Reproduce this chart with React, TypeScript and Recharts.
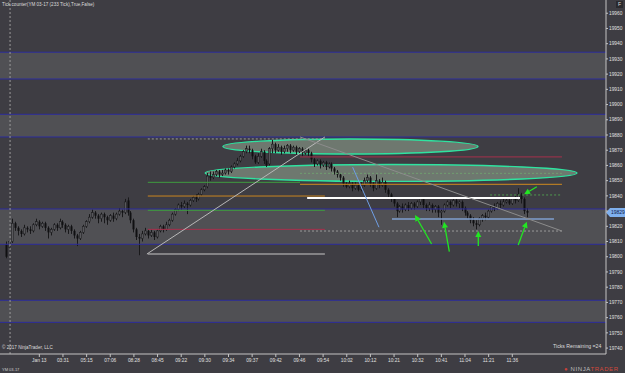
import React from 'react';
import { ComposedChart, Bar, XAxis, YAxis, ReferenceLine, ReferenceArea } from 'recharts';

// YM 03-17, 233 tick bars
const opens = [
  19808, 19806, 19810, 19822, 19819, 19817, 19815, 19819, 19818, 19817, 19821, 19823, 19820, 19822, 19819, 19816, 19818, 19821, 19819, 19823,
  19821, 19818, 19820, 19817, 19814, 19812, 19816, 19820, 19823, 19826, 19829, 19827, 19825, 19828, 19826, 19824, 19827, 19825, 19828, 19830,
  19829, 19837, 19829, 19824, 19818, 19813, 19812, 19815, 19817, 19814, 19816, 19813, 19817, 19820, 19818, 19821, 19824, 19828, 19831, 19834,
  19833, 19835, 19834, 19837, 19839, 19838, 19841, 19844, 19846, 19853, 19852, 19854, 19856, 19854, 19855, 19857, 19856, 19859, 19861, 19863,
  19866, 19869, 19871, 19870, 19866, 19862, 19866, 19869, 19863, 19861, 19871, 19874, 19870, 19872, 19869, 19871, 19873, 19870, 19872, 19869,
  19871, 19868, 19870, 19868, 19864, 19861, 19863, 19860, 19862, 19859, 19861, 19858, 19856, 19854, 19852, 19848, 19846, 19848, 19845, 19847,
  19844, 19847, 19850, 19852, 19848, 19845, 19850, 19847, 19849, 19844, 19841, 19838, 19835, 19830, 19833, 19831, 19834, 19832, 19835, 19833,
  19836, 19838, 19834, 19832, 19834, 19831, 19833, 19829, 19830, 19834, 19836, 19834, 19837, 19835, 19836, 19832, 19829, 19827, 19824, 19822,
  19821, 19825, 19827, 19826, 19830, 19833, 19832, 19835, 19834, 19836, 19837, 19835, 19838, 19837, 19841, 19838, 19830,
];
const highs = [
  19810, 19811, 19825, 19823, 19820, 19818, 19821, 19820, 19820, 19822, 19825, 19824, 19823, 19823, 19820, 19819, 19822, 19822, 19825, 19824,
  19822, 19821, 19821, 19818, 19815, 19817, 19821, 19824, 19828, 19831, 19830, 19828, 19829, 19829, 19827, 19828, 19829, 19829, 19832, 19831,
  19838, 19839, 19830, 19825, 19819, 19815, 19817, 19819, 19818, 19818, 19817, 19818, 19821, 19821, 19823, 19825, 19829, 19832, 19835, 19836,
  19837, 19836, 19838, 19840, 19841, 19842, 19845, 19847, 19855, 19856, 19856, 19857, 19857, 19857, 19858, 19858, 19860, 19862, 19865, 19867,
  19870, 19873, 19873, 19871, 19867, 19868, 19871, 19870, 19864, 19872, 19877, 19875, 19874, 19873, 19873, 19874, 19874, 19873, 19873, 19872,
  19872, 19871, 19871, 19869, 19865, 19864, 19864, 19863, 19863, 19862, 19862, 19859, 19857, 19855, 19853, 19849, 19850, 19849, 19849, 19848,
  19849, 19852, 19854, 19853, 19849, 19854, 19851, 19852, 19850, 19845, 19842, 19839, 19836, 19834, 19835, 19835, 19836, 19836, 19836, 19837,
  19839, 19839, 19835, 19836, 19835, 19834, 19834, 19831, 19835, 19837, 19837, 19839, 19838, 19837, 19837, 19833, 19830, 19828, 19826, 19824,
  19826, 19828, 19829, 19831, 19834, 19835, 19836, 19837, 19838, 19839, 19838, 19839, 19840, 19845, 19842, 19839, 19832,
];
const lows = [
  19799, 19805, 19809, 19817, 19814, 19813, 19814, 19816, 19815, 19816, 19820, 19818, 19819, 19817, 19812, 19814, 19817, 19817, 19818, 19819,
  19816, 19815, 19815, 19812, 19807, 19811, 19815, 19819, 19822, 19825, 19825, 19822, 19823, 19822, 19821, 19823, 19823, 19824, 19827, 19826,
  19828, 19827, 19822, 19816, 19811, 19801, 19810, 19814, 19812, 19813, 19811, 19812, 19816, 19816, 19817, 19820, 19823, 19827, 19830, 19831,
  19832, 19828, 19833, 19836, 19836, 19837, 19840, 19843, 19845, 19850, 19851, 19853, 19852, 19853, 19854, 19854, 19855, 19858, 19860, 19862,
  19865, 19868, 19868, 19864, 19861, 19861, 19865, 19861, 19859, 19860, 19868, 19868, 19869, 19867, 19868, 19869, 19868, 19869, 19867, 19868,
  19866, 19867, 19866, 19862, 19859, 19860, 19858, 19859, 19857, 19858, 19856, 19854, 19852, 19850, 19846, 19845, 19845, 19843, 19844, 19843,
  19843, 19846, 19849, 19846, 19843, 19844, 19845, 19846, 19842, 19839, 19836, 19833, 19826, 19829, 19829, 19830, 19830, 19831, 19831, 19832,
  19834, 19832, 19830, 19830, 19829, 19829, 19826, 19821, 19829, 19833, 19832, 19833, 19833, 19832, 19830, 19827, 19825, 19822, 19820, 19818,
  19820, 19823, 19824, 19825, 19829, 19830, 19831, 19832, 19833, 19835, 19834, 19834, 19835, 19836, 19835, 19828, 19826,
];
const closes = [
  19800, 19810, 19822, 19819, 19817, 19815, 19819, 19818, 19817, 19821, 19823, 19820, 19822, 19819, 19816, 19818, 19821, 19819, 19823, 19821,
  19818, 19820, 19817, 19814, 19812, 19816, 19820, 19823, 19826, 19829, 19827, 19825, 19828, 19826, 19824, 19827, 19825, 19828, 19830, 19829,
  19836, 19829, 19824, 19818, 19813, 19812, 19815, 19817, 19814, 19816, 19813, 19817, 19820, 19818, 19821, 19824, 19828, 19831, 19834, 19833,
  19835, 19834, 19837, 19839, 19838, 19841, 19844, 19846, 19853, 19852, 19854, 19856, 19854, 19855, 19857, 19856, 19859, 19861, 19863, 19866,
  19869, 19871, 19870, 19866, 19862, 19866, 19869, 19863, 19860, 19871, 19874, 19870, 19872, 19869, 19871, 19873, 19870, 19872, 19869, 19871,
  19868, 19870, 19868, 19864, 19861, 19863, 19860, 19862, 19859, 19861, 19858, 19856, 19854, 19852, 19848, 19846, 19848, 19845, 19847, 19844,
  19847, 19850, 19852, 19848, 19845, 19850, 19847, 19849, 19844, 19841, 19838, 19835, 19830, 19833, 19831, 19834, 19832, 19835, 19833, 19836,
  19838, 19834, 19832, 19834, 19831, 19833, 19829, 19830, 19834, 19836, 19834, 19837, 19835, 19836, 19832, 19829, 19827, 19824, 19822, 19821,
  19825, 19827, 19826, 19830, 19833, 19832, 19835, 19834, 19836, 19837, 19835, 19838, 19837, 19841, 19838, 19830, 19829,
];

// x axis: bar index of each time label
const timeTicks = [11, 19, 27, 35, 43, 51, 59, 67, 75, 83, 91, 99, 107, 115, 123, 131, 139, 147, 155, 163, 171];
const timeLabels = ['Jan 13', '03:31', '05:15', '07:06', '08:28', '08:45', '09:22', '09:30', '09:34', '09:37', '09:42',
  '09:46', '09:54', '10:02', '10:12', '10:21', '10:32', '10:41', '11:04', '11:21', '11:36'];
const priceTicks = [19740, 19750, 19760, 19770, 19780, 19790, 19800, 19810, 19820, 19830, 19840, 19850,
  19860, 19870, 19880, 19890, 19900, 19910, 19920, 19930, 19940, 19950, 19960];

// shaded zones, [top, bottom] price
const zones = [[19934.4, 19916.8], [19893.6, 19878.7], [19831.4, 19808.2], [19771.4, 19756.9]];

// drawn horizontal rays: [fromBar, toBar, price]
const rays = [
  [47.7, 99.2, 19848.9], [99.2, 187.8, 19847.6], [47.7, 107.6, 19839.9], [47.7, 107.6, 19830.5],
  [47.7, 107.6, 19818], [47.7, 107.6, 19801.8], [99.2, 187.8, 19865.6], [99.2, 187.8, 19854.8],
  [163.5, 187.8, 19840.6], [101.6, 173.6, 19838.6], [130.3, 185.1, 19824.8], [99.2, 187.8, 19816.9],
  [47.7, 107.6, 19877.4],
];
const rayColors = ['#3f9c3f', '#d08a1e', '#c98520', '#3f9c3f', '#a8304c', '#c8c8c8', '#a8304c', '#6f9f6f',
  '#4f9a4f', '#ffffff', '#7f9fcf', '#9a9a9a', '#9a9a9a'];
const rayWidths = [1, 1, 1, 1, 1, 1, 1, 1, 1, 2, 1.5, 1, 1];
const rayDash = ['', '', '', '', '', '', '', '2 2', '2 2', '', '', '2 2', '2 2'];

// trend lines: [fromBar, fromPrice, toBar, toPrice]
const trends = [[47.4, 19801.8, 107.6, 19878.7], [99.2, 19878.7, 187.8, 19816.9], [117, 19858.8, 125.9, 19819.4]];
const trendColors = ['#b8b8b8', '#8c8c8c', '#6f9fe6'];

// green arrows: [tailBar, tailPrice, headBar, headPrice]
const arrows = [
  [179.3, 19846, 175.0, 19841], [143.7, 19808.4, 138.1, 19827.4], [149.7, 19803.3, 147.9, 19823],
  [159.5, 19807.1, 159.5, 19816.9], [173, 19807.7, 175.9, 19823],
];

// ellipses: [fromBar, toBar, lowPrice, highPrice]
const ovals = [[73.1, 159.4, 19867.5, 19877.4], [67.1, 192.9, 19849.5, 19860.6]];

const candles = closes.map((c, i) => ({
  i,
  open: opens[i],
  high: highs[i],
  low: lows[i],
  close: c,
  range: [lows[i], highs[i]],
}));
const lastClose = closes[closes.length - 1];

const FONT = '"Liberation Sans", Arial, sans-serif';

function Candle(props: any) {
  const { x, y, width, height, payload } = props;
  const top = Math.min(y, y + height);
  const h = Math.abs(height);
  const cx = Math.round(x + width / 2) + 0.5;
  const span = payload.high - payload.low || 1;
  const py = (v: number) => top + ((payload.high - v) / span) * h;
  const b0 = py(Math.max(payload.open, payload.close));
  const b1 = py(Math.min(payload.open, payload.close));
  const up = payload.close > payload.open;
  return (
    <g>
      <line x1={cx} x2={cx} y1={top} y2={top + h} stroke="#19191b" strokeWidth={1} />
      <rect x={cx - 1} y={b0} width={2} height={Math.max(1, b1 - b0)}
        fill={up ? '#58585c' : '#101012'} stroke={up ? '#19191b' : 'none'} strokeWidth={0.5} />
    </g>
  );
}

function Arrow(props: any) {
  const { x1, y1, x2, y2 } = props;
  const a = Math.atan2(y2 - y1, x2 - x1);
  const L = 6;
  const W = 3;
  const bx = x2 - L * Math.cos(a);
  const by = y2 - L * Math.sin(a);
  const px = -Math.sin(a) * W;
  const py = Math.cos(a) * W;
  return (
    <g>
      <line x1={x1} y1={y1} x2={bx} y2={by} stroke="#22e622" strokeWidth={1.3} />
      <polygon points={`${x2},${y2} ${bx + px},${by + py} ${bx - px},${by - py}`} fill="#22e622" />
    </g>
  );
}

function Oval(props: any) {
  const { x, y, width, height } = props;
  return (
    <ellipse cx={x + width / 2} cy={y + height / 2} rx={width / 2} ry={height / 2}
      fill="#a8c2a6" fillOpacity={0.45} stroke="#2fe3a0" strokeWidth={1.4} />
  );
}

function PriceTag(props: any) {
  const { viewBox } = props;
  const x = viewBox.x + viewBox.width;
  const y = viewBox.y;
  return (
    <g>
      <polygon points={`${x},${y} ${x + 4},${y - 4.5} ${x + 19},${y - 4.5} ${x + 19},${y + 4.5} ${x + 4},${y + 4.5}`}
        fill="#7fb0ee" />
      <text x={x + 5} y={y + 1.8} fontSize={5} fontFamily={FONT} fill="#10204a">{lastClose}</text>
    </g>
  );
}

// the live price tag sits over the nearest price label, so that label is left blank
const priceLabel = (v: number) => (Math.abs(v - lastClose) < 4 ? '' : String(v));

export default function App() {
  return (
    <div style={{ position: 'absolute', left: 0, top: 0, width: 625, height: 373, background: '#3e3d43', overflow: 'hidden' }}>
      <ComposedChart width={625} height={373} data={candles} margin={{ top: 0, right: 0, bottom: 0, left: 0 }}>
        <XAxis dataKey="i" type="number" domain={[-2.3, 202.7]} allowDataOverflow ticks={timeTicks}
          tickFormatter={(v: number) => timeLabels[timeTicks.indexOf(v)] ?? ''} height={19}
          stroke="#c4c4c4" tickSize={3} tick={{ fontSize: 4.8, fill: '#e0e0e0', fontFamily: FONT }} />
        <YAxis orientation="right" type="number" domain={[19736.1, 19968.7]} allowDataOverflow ticks={priceTicks}
          tickFormatter={priceLabel} width={19} stroke="#c4c4c4" tickSize={2} tickMargin={1}
          tick={{ fontSize: 4.8, fill: '#e0e0e0', fontFamily: FONT }} />

        {zones.map(([top, bottom], k) => (
          <ReferenceArea key={`z${k}`} y1={bottom} y2={top} fill="#505054" fillOpacity={1} stroke="none" />
        ))}
        {zones.flat().map((p, k) => (
          <ReferenceLine key={`b${k}`} y={p} stroke="#2c2c9c" strokeWidth={1} />
        ))}
        <ReferenceLine x={1.1} stroke="#9a9a9a" strokeDasharray="2 2" />

        {ovals.map(([a, b, lo, hi], k) => (
          <ReferenceArea key={`o${k}`} x1={a} x2={b} y1={lo} y2={hi} shape={Oval} />
        ))}

        <Bar dataKey="range" barSize={2} shape={Candle} isAnimationActive={false} />

        {rays.map(([a, b, p], k) => (
          <ReferenceLine key={`r${k}`} segment={[{ x: a, y: p }, { x: b, y: p }]}
            stroke={rayColors[k]} strokeWidth={rayWidths[k]} strokeDasharray={rayDash[k] || undefined} />
        ))}
        {trends.map(([a, pa, b, pb], k) => (
          <ReferenceLine key={`t${k}`} segment={[{ x: a, y: pa }, { x: b, y: pb }]}
            stroke={trendColors[k]} strokeWidth={1} />
        ))}
        {arrows.map(([a, pa, b, pb], k) => (
          <ReferenceLine key={`a${k}`} segment={[{ x: a, y: pa }, { x: b, y: pb }]} shape={Arrow} />
        ))}
        <ReferenceLine y={lastClose} stroke="none" label={PriceTag} />
      </ComposedChart>

      <div style={{ position: 'absolute', left: 2, top: 2, fontSize: 4.6, color: '#dcdcdc', fontFamily: FONT, whiteSpace: 'nowrap' }}>
        Tick counter(YM 03-17 (233 Tick),True,False)
      </div>
      <div style={{ position: 'absolute', left: 616, top: 1, width: 7, height: 7, background: '#2a2a2e', color: '#ddd',
        fontSize: 5, fontFamily: FONT, textAlign: 'center', lineHeight: '7px' }}>F</div>
      <div style={{ position: 'absolute', left: 2, top: 345, fontSize: 4.6, color: '#dcdcdc', fontFamily: FONT, whiteSpace: 'nowrap' }}>
        © 2017 NinjaTrader, LLC
      </div>
      <div style={{ position: 'absolute', left: 553, top: 343, fontSize: 5.2, color: '#dcdcdc', fontFamily: FONT, whiteSpace: 'nowrap' }}>
        Ticks Remaining =24
      </div>
      <div style={{ position: 'absolute', left: 2, top: 367, fontSize: 4, color: '#cfcfcf', fontFamily: FONT, whiteSpace: 'nowrap' }}>
        YM 03-17
      </div>
      <div style={{ position: 'absolute', left: 564, top: 366, fontSize: 6, fontFamily: FONT, whiteSpace: 'nowrap', letterSpacing: 0.6 }}>
        <span style={{ color: '#c8413a' }}>● </span>
        <span style={{ color: '#bdbdbd' }}>NINJA</span>
        <span style={{ color: '#d2493c' }}>TRADER</span>
      </div>
    </div>
  );
}
